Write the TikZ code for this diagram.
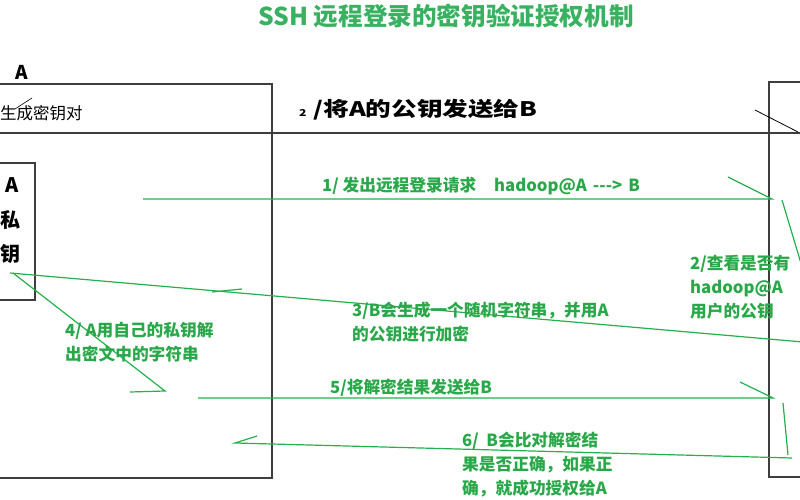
\documentclass[tikz,border=0pt]{standalone}
\usepackage{fontspec}
\newfontfamily\cjk{Noto Sans CJK SC}
\newfontfamily\cjkwide[FakeStretch=1.28]{Noto Sans CJK SC}
\definecolor{linegreen}{RGB}{34,177,76}
\definecolor{textgreen}{RGB}{40,168,72}
\definecolor{titlegreen}{RGB}{56,178,96}
\definecolor{boxgray}{RGB}{62,62,62}

\tikzset{
  glabel/.style={text=textgreen, font=\cjk\bfseries\fontsize{16.7}{24}\selectfont, inner sep=0pt, align=left},
  blabel/.style={text=black, font=\cjk\bfseries\fontsize{20}{24}\selectfont, inner sep=0pt},
  gline/.style={linegreen, line width=1.2pt},
  boxline/.style={boxgray, line width=1.8pt},
}

\begin{document}
\begin{tikzpicture}[x=1pt,y=-1pt]
	\useasboundingbox (0,0) rectangle (800,500);
	\clip (0,0) rectangle (800,500);
	% title
	\node[text=titlegreen, font=\cjk\bfseries\fontsize{24.6}{27}\selectfont, inner sep=0pt] (title) at (446,16) {SSH 远程登录的密钥验证授权机制};
	% host A and host B
	\draw[boxline] (-10,84) -- (272,84) -- (272,478) -- (-10,478);
	\draw[boxline] (810,82) -- (769,82) -- (769,477) -- (810,477);
	\draw[boxgray, line width=1.3pt] (-10,133) -- (810,133);
	\draw[boxline] (-10,163) -- (35,163) -- (35,300) -- (-10,300);
	\draw[black, line width=0.6pt] (15,109) -- (32,98);
	\draw[black, line width=0.8pt] (755,110) -- (798,132);
	\node[blabel, font=\cjk\bfseries\fontsize{19}{22}\selectfont] (hostA) at (22,72) {A};
	\node[text=black, font=\cjk\fontsize{16.5}{18}\selectfont, inner sep=0pt, anchor=west] (genkey) at (0,113) {生成密钥对};
	\node[blabel, font=\cjkwide\bfseries\fontsize{20}{24}\selectfont, anchor=west] (sendpub) at (299,110) {{\fontsize{9.5}{12}\selectfont 2}\hspace{7pt}/将A的公钥发送给B};
	\node[blabel] (keyA) at (12,185) {A};
	\node[blabel] (keysi) at (11,220) {私};
	\node[blabel] (keyyao) at (11,254) {钥};
	% points of the connectors
	\coordinate (s1) at (143,199);  \coordinate (e1) at (772,199);  \coordinate (h1) at (728,177);
	\coordinate (s2) at (782,200);  \coordinate (e2) at (803,270);
	\coordinate (s3) at (803,342);  \coordinate (e3) at (10,273);
	\coordinate (t3) at (212,292);  \coordinate (h3) at (242,289);
	\coordinate (s4) at (13,273);   \coordinate (e4) at (165,391);  \coordinate (h4) at (130,392);
	\coordinate (s5) at (198,398);  \coordinate (e5) at (773,398);  \coordinate (h5) at (740,382);
	\coordinate (s6) at (783,403);  \coordinate (e6) at (788,455);
	\coordinate (s7) at (792,458);  \coordinate (e7) at (235,443);  \coordinate (h7) at (257,436);
	% connectors
	\draw[gline] (s1) -- (e1) -- (h1);
	\draw[gline] (s2) -- (e2);
	\draw[gline] (s3) -- (e3);
	\draw[gline] (t3) -- (h3);
	\draw[gline] (s4) -- (e4) -- (h4);
	\draw[gline] (s5) -- (e5) -- (h5);
	\draw[gline] (s6) -- (e6);
	\draw[gline] (s7) -- (e7) -- (h7);
	% labels
	\node[glabel, anchor=west] (step1) at (322,186) {1/ 发出远程登录请求\hspace{18pt}hadoop@A\hspace{6pt}--->\hspace{6pt}B};
	\node[glabel, anchor=north west] (step2) at (690,255) {2/查看是否有\\hadoop@A\\用户的公钥};
	\node[glabel, anchor=north west] (step3) at (352,302) {3/B会生成一个随机字符串，并用A\\的公钥进行加密};
	\node[glabel, anchor=north west] (step4) at (65,322) {4/ A用自己的私钥解\\出密文中的字符串};
	\node[glabel, anchor=west] (step5) at (330,388) {5/将解密结果发送给B};
	\node[glabel, anchor=north west] (step6) at (462,432) {6/\ \ B会比对解密结\\果是否正确，如果正\\确，就成功授权给A};
\end{tikzpicture}
\end{document}
